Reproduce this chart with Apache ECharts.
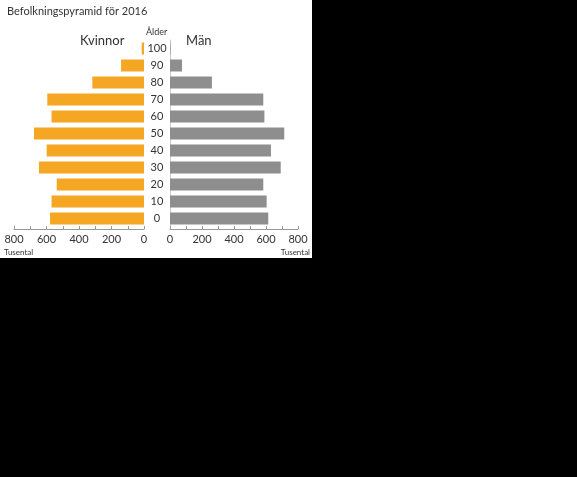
<!DOCTYPE html>
<html>
<head>
<meta charset="utf-8">
<script src="https://cdn.jsdelivr.net/npm/echarts@6/dist/echarts.min.js"></script>
<style>
  html, body { margin: 0; padding: 0; background: #000; }
  #chart { position: absolute; left: 0; top: 0; width: 312px; height: 258px; background: #fff; }
</style>
</head>
<body>
<div id="chart"></div>
<script>
// Ålder (age groups), bottom to top
var ages = ['0', '10', '20', '30', '40', '50', '60', '70', '80', '90', '100'];
// tusental
var kvinnor = [578, 569, 537, 646, 599, 677, 569, 595, 318, 141, 14];
var man = [614, 604, 583, 692, 631, 714, 590, 583, 262, 75, 3];

var font = 'Lato';
var textColor = '#333';

var myChart = echarts.init(document.getElementById('chart'));

function hundredLabel(v) {
    return v % 200 === 0 ? String(v) : '';
}

var valueAxis = {
    type: 'value',
    min: 0,
    max: 800,
    interval: 100,
    offset: 2,
    axisLine: { show: true, lineStyle: { color: '#999', width: 1 } },
    axisTick: { show: true, inside: true, length: 3, lineStyle: { color: '#999' } },
    axisLabel: { color: textColor, fontSize: 11, fontFamily: font, margin: 5, formatter: hundredLabel },
    splitLine: { show: false }
};

myChart.setOption({
    animation: false,
    textStyle: { fontFamily: font },
    title: {
        text: 'Befolkningspyramid för 2016',
        left: 2,
        top: 1,
        textStyle: { fontSize: 11, fontWeight: 'normal', color: textColor, fontFamily: font }
    },
    grid: [
        { left: 14, width: 130, top: 40, height: 187 },
        { left: 170, width: 128, top: 40, height: 187 }
    ],
    xAxis: [
        echarts.util.merge({ gridIndex: 0, inverse: true }, valueAxis, true),
        echarts.util.merge({ gridIndex: 1 }, valueAxis, true)
    ],
    yAxis: [
        {
            type: 'category', gridIndex: 0, data: ages,
            axisLine: { show: false }, axisTick: { show: false }, axisLabel: { show: false }
        },
        {
            type: 'category', gridIndex: 1, data: ages,
            axisLine: { show: true, lineStyle: { color: '#ccc' } },
            axisTick: { show: false },
            axisLabel: { color: textColor, fontSize: 11, fontFamily: font, align: 'center', margin: 13 }
        }
    ],
    series: [
        {
            name: 'Kvinnor', type: 'bar', xAxisIndex: 0, yAxisIndex: 0,
            data: kvinnor, barWidth: 12,
            itemStyle: { color: '#F5A623' }
        },
        {
            name: 'Män', type: 'bar', xAxisIndex: 1, yAxisIndex: 1,
            data: man, barWidth: 12,
            itemStyle: { color: '#8E8E8E' }
        }
    ],
    graphic: [
        { type: 'text', left: 80, top: 34, style: { text: 'Kvinnor', fontSize: 13, fontFamily: font, fill: textColor } },
        { type: 'text', left: 186, top: 34, style: { text: 'Män', fontSize: 13, fontFamily: font, fill: textColor } },
        { type: 'text', left: 146, top: 28, style: { text: 'Ålder', fontSize: 9, fontFamily: font, fill: textColor } },
        { type: 'text', left: 4, top: 248, style: { text: 'Tusental', fontSize: 8, fontFamily: font, fill: textColor } },
        { type: 'text', right: 2, top: 248, style: { text: 'Tusental', fontSize: 8, fontFamily: font, fill: textColor } }
    ]
});
</script>
</body>
</html>
